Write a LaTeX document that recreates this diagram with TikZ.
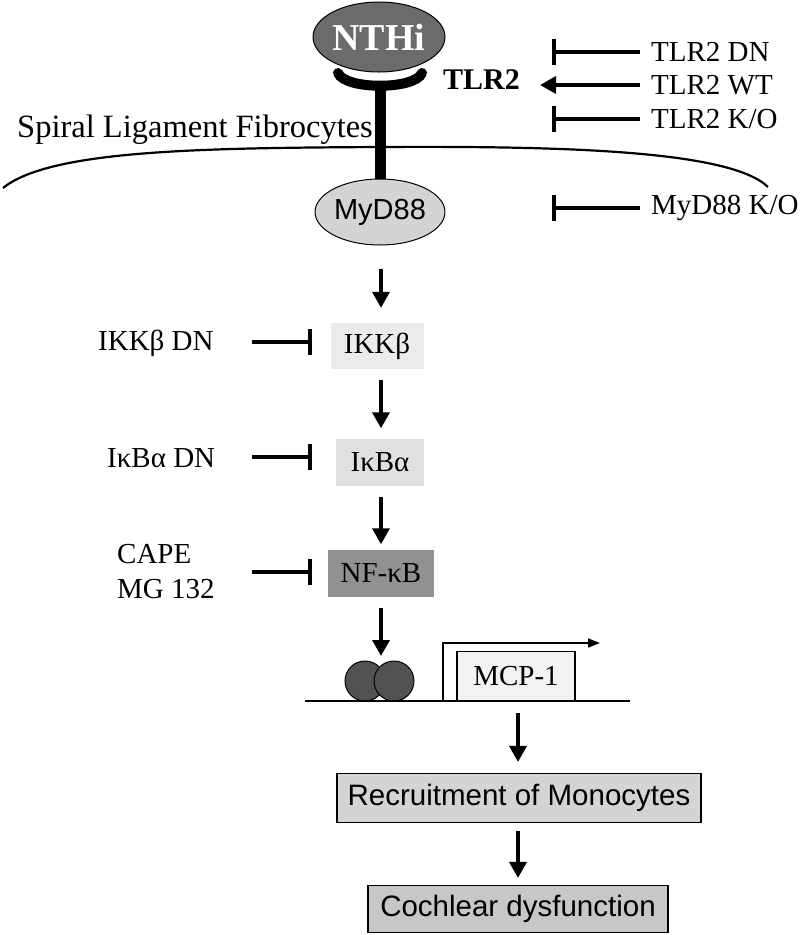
\documentclass[tikz,border=0pt]{standalone}
\usepackage{fontspec}
\setmainfont{Liberation Serif}
\setsansfont{Liberation Sans}
\usetikzlibrary{arrows.meta,shapes.geometric}
\begin{document}
\begin{tikzpicture}[x=1pt,y=-1pt,
  lab/.style={font=\fontsize{29}{33}\selectfont, inner sep=0pt},
  gbox/.style={rectangle, inner sep=0pt, font=\fontsize{29}{33}\selectfont},
  sbox/.style={rectangle, draw=black, line width=1.2pt, inner sep=0pt, font=\sffamily\fontsize{29.5}{33}\selectfont},
  act/.style={line width=3.5pt, -{Triangle[width=17pt,length=16pt]}},
  inh/.style={line width=3.5pt, -{Bar[width=26pt,line width=4pt]}},
]
\useasboundingbox (0,0) rectangle (800,935);
% membrane
\draw[line width=2.2pt] (3,188) .. controls (50,150) and (200,148) .. (380,147) .. controls (560,146) and (730,150) .. (768,187);
\node[lab, font=\fontsize{32.5}{34}\selectfont, anchor=base west] (slf) at (17,137) {Spiral Ligament Fibrocytes};
% receptor
\draw[line width=11pt] (380,86) -- (380,180);
\draw[line width=10pt, line cap=round] (338,73) .. controls (345,90) and (415,90) .. (422,73);
\node[ellipse, draw=black, line width=1pt, fill=black!58, minimum width=132pt, minimum height=70pt, inner sep=0pt,
  text=white, font=\bfseries\fontsize{38}{40}\selectfont] (nthi) at (379,37) {NTHi};
\node[lab, font=\bfseries\fontsize{30}{33}\selectfont, anchor=west] (tlr2) at (443,80) {TLR2};
\node[ellipse, draw=black, line width=1pt, fill=black!17, minimum width=120pt, minimum height=66pt, inner sep=0pt,
  font=\sffamily\fontsize{29}{33}\selectfont] (myd) at (380,212) {MyD88};
% right labels
\node[lab, anchor=west] (dn) at (651,52) {TLR2 DN};
\node[lab, anchor=west] (wt) at (651,85) {TLR2 WT};
\node[lab, anchor=west] (ko) at (651,119) {TLR2 K/O};
\node[lab, anchor=west] (mko) at (651,208) {MyD88 K/O};
\coordinate (dnS) at (640,52); \coordinate (dnE) at (552,52);
\coordinate (wtS) at (640,85); \coordinate (wtE) at (540,85);
\coordinate (koS) at (640,119); \coordinate (koE) at (552,119);
\coordinate (mkoS) at (640,208); \coordinate (mkoE) at (552,208);
\draw[inh] (dnS) -- (dnE);
\draw[act] (wtS) -- (wtE);
\draw[inh] (koS) -- (koE);
\draw[inh] (mkoS) -- (mkoE);
% cascade
\coordinate (axis) at (381,0);
\coordinate (axis2) at (518,0);
\node[gbox, fill=black!8, minimum width=93pt, minimum height=46pt] (ikk) at (377,346) {IKKβ};
\node[gbox, fill=black!12, minimum width=88pt, minimum height=47pt] (ikb) at (380,462) {IκBα};
\node[gbox, fill=black!43, minimum width=106pt, minimum height=47pt] (nfkb) at (381,573) {NF-κB};
\draw[act] ([yshift=-23pt]axis |- myd.south) -- ([yshift=15pt]axis |- ikk.north);
\draw[act] ([yshift=-11pt]axis |- ikk.south) -- ([yshift=10pt]axis |- ikb.north);
\draw[act] ([yshift=-11pt]axis |- ikb.south) -- ([yshift=5pt]axis |- nfkb.north);
% left labels
\node[lab, anchor=west] (ikkdn) at (98,343) {IKKβ DN};
\node[lab, anchor=west] (ikbdn) at (107,458) {IκBα DN};
\node[lab, anchor=west, align=left, font=\fontsize{29}{35}\selectfont] (cape) at (117,572) {CAPE\\MG 132};
\coordinate (ikkdnS) at (252,342); \coordinate (ikkdnE) at (312,342);
\coordinate (ikbdnS) at (252,457); \coordinate (ikbdnE) at (312,457);
\coordinate (capeS) at (252,572); \coordinate (capeE) at (312,572);
\draw[inh] (ikkdnS) -- (ikkdnE);
\draw[inh] (ikbdnS) -- (ikbdnE);
\draw[inh] (capeS) -- (capeE);
% DNA
\node[circle, draw=black, line width=1pt, fill=black!68, minimum size=40pt, inner sep=0pt] (c1) at (365,681) {};
\node[circle, draw=black, line width=1pt, fill=black!68, minimum size=40pt, inner sep=0pt] (c2) at (394,681) {};
\coordinate (nfkbArr) at (381,656);
\draw[act] ([yshift=-11pt]axis |- nfkb.south) -- (nfkbArr);
\coordinate (dnaL) at (305,701); \coordinate (dnaR) at (630,701);
\draw[line width=2pt] (dnaL) -- (dnaR);
\node[rectangle, draw=black, line width=1.2pt, fill=black!5, minimum width=118pt, minimum height=49pt, inner sep=0pt,
  font=\fontsize{29}{33}\selectfont] (mcp) at (516,676) {MCP-1};
\coordinate (tss) at (443,701); \coordinate (tssEnd) at (600,643);
\draw[line width=1.8pt, -{Triangle[width=9pt,length=12pt]}] (tss) |- (tssEnd);
% outputs
\node[sbox, fill=black!17, minimum width=364pt, minimum height=49pt] (rec) at (519,798) {Recruitment of Monocytes};
\node[sbox, fill=black!22, minimum width=300pt, minimum height=47pt] (coc) at (518,909) {Cochlear dysfunction};
\coordinate (mcpArr) at (518,713);
\draw[act] (mcpArr) -- ([yshift=11pt]axis2 |- rec.north);
\draw[act] ([yshift=-8pt]axis2 |- rec.south) -- ([yshift=7pt]axis2 |- coc.north);
\end{tikzpicture}
\end{document}
